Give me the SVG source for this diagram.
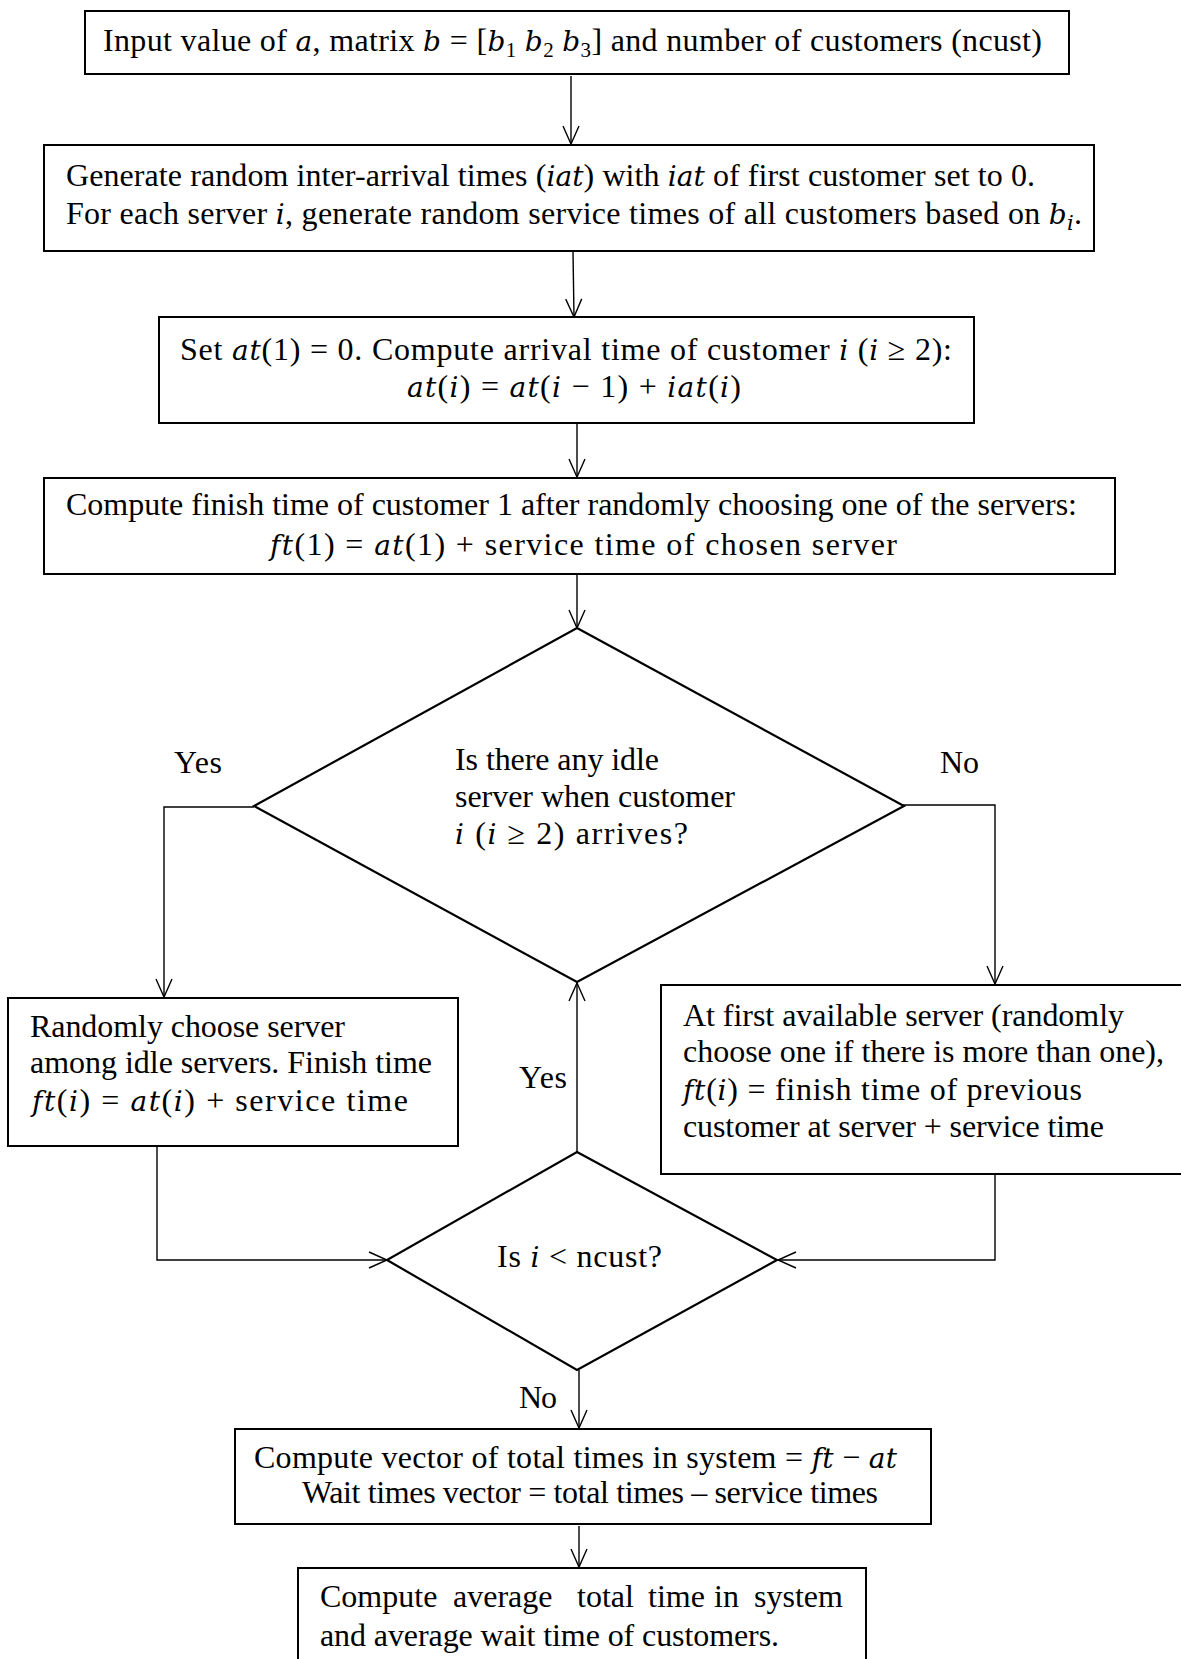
<svg xmlns="http://www.w3.org/2000/svg" width="1181" height="1659" viewBox="0 0 1181 1659">
<style>
.box{fill:#fff;stroke:#000;stroke-width:2}
.dia{fill:#fff;stroke:#000;stroke-width:2.2}
.con{fill:none;stroke:#000;stroke-width:1.4}
text{font-family:"Liberation Serif","Times New Roman",serif;font-size:32px;fill:#000}
.c{text-anchor:middle}
.m{font-family:"DejaVu Serif","Liberation Serif",serif;font-style:italic;font-size:28px}
.s{font-size:21px}
</style>
<defs>
<marker id="arr" markerUnits="userSpaceOnUse" markerWidth="24" markerHeight="20" viewBox="0 0 24 20" refX="20" refY="10" orient="auto">
<path d="M2,2 L20,10 L2,18" fill="none" stroke="#000" stroke-width="1.4"/>
</marker>
</defs>
<rect width="1181" height="1659" fill="#fff"/>
<g id="connectors">
<line class="con" x1="571" y1="76" x2="571" y2="144" marker-end="url(#arr)"/>
<line class="con" x1="573" y1="252" x2="574" y2="317" marker-end="url(#arr)"/>
<line class="con" x1="577" y1="424" x2="577" y2="477" marker-end="url(#arr)"/>
<line class="con" x1="577" y1="575" x2="577" y2="628" marker-end="url(#arr)"/>
<polyline class="con" points="254,807 164,807 164,997" marker-end="url(#arr)"/>
<polyline class="con" points="903,805 995,805 995,984" marker-end="url(#arr)"/>
<line class="con" x1="577" y1="1152" x2="577" y2="983" marker-end="url(#arr)"/>
<polyline class="con" points="157,1147 157,1260 387,1260" marker-end="url(#arr)"/>
<polyline class="con" points="995,1175 995,1260 778,1260" marker-end="url(#arr)"/>
<line class="con" x1="579" y1="1370" x2="579" y2="1428" marker-end="url(#arr)"/>
<line class="con" x1="579" y1="1526" x2="579" y2="1567" marker-end="url(#arr)"/>
<text x="174" y="773" textLength="48">Yes</text>
<text x="940" y="773" textLength="39">No</text>
<text x="519" y="1088" textLength="48">Yes</text>
<text x="519" y="1408" textLength="38">No</text>
</g>
<g id="n1">
<rect class="box" x="85" y="11" width="984" height="63"/>
<text x="103" y="51" textLength="939">Input value of <tspan class="m">a</tspan>, matrix <tspan class="m">b</tspan> = [<tspan class="m">b</tspan><tspan class="s" dy="6">1</tspan><tspan dy="-6"> </tspan><tspan class="m">b</tspan><tspan class="s" dy="6">2</tspan><tspan dy="-6"> </tspan><tspan class="m">b</tspan><tspan class="s" dy="6">3</tspan><tspan dy="-6">]  and number of customers (ncust)</tspan></text>
</g>
<g id="n2">
<rect class="box" x="44" y="145" width="1050" height="106"/>
<text x="66" y="186" textLength="969">Generate random inter-arrival times (<tspan class="m">iat</tspan>) with <tspan class="m">iat</tspan> of first customer set to 0.</text>
<text x="66" y="224" textLength="1016">For each server <tspan class="m">i</tspan>, generate random service times of all customers based on <tspan class="m">b</tspan><tspan class="s m" dy="6">i</tspan><tspan dy="-6">.</tspan></text>
</g>
<g id="n3">
<rect class="box" x="159" y="317" width="815" height="106"/>
<text x="180" y="360" textLength="772">Set <tspan class="m">at</tspan>(1) = 0. Compute arrival time of customer <tspan class="m">i</tspan> (<tspan class="m">i</tspan>  ≥ 2):</text>
<text x="407" y="397" textLength="334"><tspan class="m">at</tspan>(<tspan class="m">i</tspan>) = <tspan class="m">at</tspan>(<tspan class="m">i</tspan> − 1) + <tspan class="m">iat</tspan>(<tspan class="m">i</tspan>)</text>
</g>
<g id="n4">
<rect class="box" x="44" y="478" width="1071" height="96"/>
<text x="66" y="515" textLength="1011">Compute finish time of customer 1 after randomly choosing one of the servers:</text>
<text x="270" y="555" textLength="627"><tspan class="m">ft</tspan>(1) = <tspan class="m">at</tspan>(1) + service time of chosen server</text>
</g>
<g id="n5">
<polygon class="dia" points="577,628 904,806 577,982 254,806"/>
<text x="455" y="770" textLength="204">Is there any idle</text>
<text x="455" y="807" textLength="280">server when customer</text>
<text x="455" y="844" textLength="233"><tspan class="m">i</tspan> (<tspan class="m">i</tspan>  ≥ 2) arrives?</text>
</g>
<g id="n6">
<rect class="box" x="8" y="998" width="450" height="148"/>
<text x="30" y="1037" textLength="315">Randomly choose server</text>
<text x="30" y="1073" textLength="402">among idle servers. Finish time</text>
<text x="32" y="1111" textLength="376"><tspan class="m">ft</tspan>(<tspan class="m">i</tspan>) = <tspan class="m">at</tspan>(<tspan class="m">i</tspan>) + service time</text>
</g>
<g id="n7">
<rect class="box" x="661" y="985" width="540" height="189"/>
<text x="683" y="1026" textLength="441">At first available server (randomly</text>
<text x="683" y="1062" textLength="481">choose one if there is more than one),</text>
<text x="683" y="1100" textLength="399"><tspan class="m">ft</tspan>(<tspan class="m">i</tspan>) = finish time of previous</text>
<text x="683" y="1137" textLength="421">customer at server + service time</text>
</g>
<g id="n8">
<polygon class="dia" points="577,1152 777,1260 577,1370 387,1260"/>
<text x="497" y="1267" textLength="165">Is <tspan class="m">i</tspan> &lt; ncust?</text>
</g>
<g id="n9">
<rect class="box" x="235" y="1429" width="696" height="95"/>
<text x="254" y="1468" textLength="643">Compute vector of total times in system = <tspan class="m">ft</tspan> − <tspan class="m">at</tspan></text>
<text x="302" y="1503" textLength="576">Wait times vector = total times – service times</text>
</g>
<g id="n10">
<rect class="box" x="298" y="1568" width="568" height="120"/>
<text y="1607"><tspan x="320">Compute</tspan><tspan x="453">average</tspan><tspan x="577">total</tspan><tspan x="648">time</tspan><tspan x="714">in</tspan><tspan x="754">system</tspan></text>
<text x="320" y="1646" textLength="459">and average wait time of customers.</text>
</g>
</svg>
